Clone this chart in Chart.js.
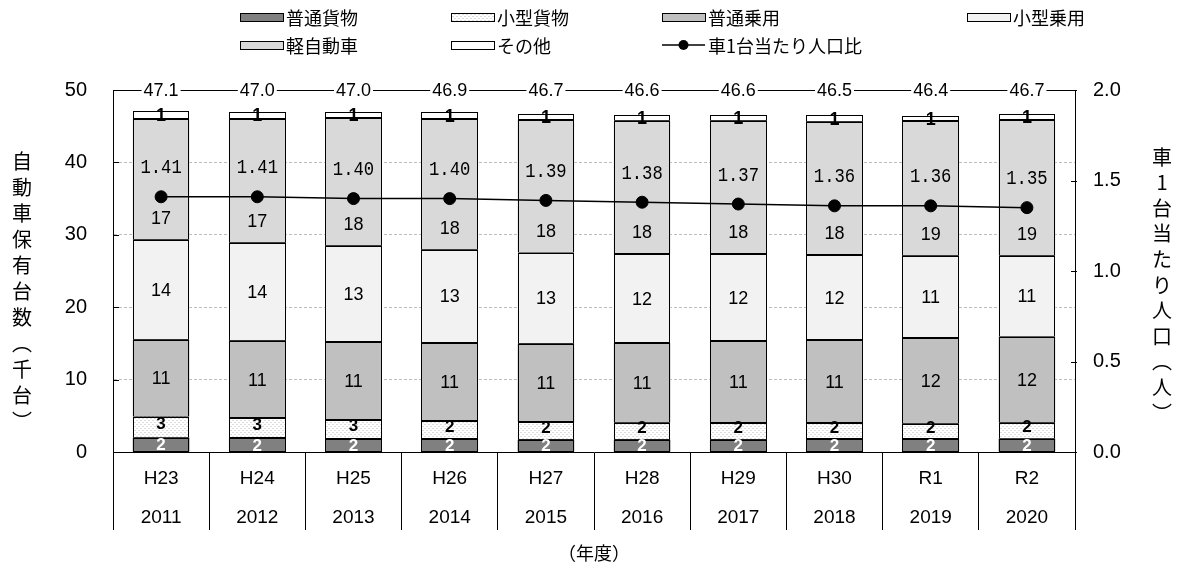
<!DOCTYPE html>
<html>
<head>
<meta charset="utf-8">
<script src="https://cdn.jsdelivr.net/npm/chart.js@4.4.1/dist/chart.umd.min.js"></script>
<style>
    body { margin: 0; background: #fff; }
    canvas { display: block; }
</style>
</head>
<body>
<canvas id="grafica" width="1183" height="570"></canvas>
<script>
// 年度
var eras = ["H23", "H24", "H25", "H26", "H27", "H28", "H29", "H30", "R1", "R2"];
var years = ["2011", "2012", "2013", "2014", "2015", "2016", "2017", "2018", "2019", "2020"];

// 自動車保有台数（千台）
var futsuKamotsu = [2.0, 1.9, 1.8, 1.8, 1.7, 1.7, 1.7, 1.75, 1.75, 1.85];
var kogataKamotsu = [2.9, 2.75, 2.6, 2.45, 2.45, 2.35, 2.3, 2.25, 2.15, 2.2];
var futsuJoyo = [10.6, 10.7, 10.8, 10.8, 10.8, 11.0, 11.3, 11.45, 11.8, 11.9];
var kogataJoyo = [13.8, 13.55, 13.3, 12.9, 12.6, 12.25, 12.0, 11.7, 11.4, 11.15];
var keiJidosha = [16.7, 17.1, 17.6, 18.0, 18.3, 18.45, 18.45, 18.45, 18.55, 18.7];
var sonota = [1.1, 1.0, 0.9, 0.95, 0.85, 0.85, 0.85, 0.9, 0.75, 0.9];

// 車1台当たり人口比
var jinkouHi = [1.41, 1.41, 1.40, 1.40, 1.39, 1.38, 1.37, 1.36, 1.36, 1.35];

var leftTicks = [0, 10, 20, 30, 40, 50];
var rightTicks = [0, 0.5, 1.0, 1.5, 2.0];

var leftTitle = ["自", "動", "車", "保", "有", "台", "数", "︵", "千", "台", "︶"];
var rightTitle = ["車", "1", "台", "当", "た", "り", "人", "口", "︵", "人", "︶"];

Chart.defaults.font.family = '"Liberation Sans", "Noto Sans CJK JP", sans-serif';
Chart.defaults.color = "#000";

// 小型貨物の点々模様
function dotPattern() {
    var c = document.createElement("canvas");
    c.width = 4;
    c.height = 4;
    var g = c.getContext("2d");
    g.fillStyle = "#ffffff";
    g.fillRect(0, 0, 4, 4);
    g.fillStyle = "#dddddd";
    g.fillRect(0, 0, 2, 1);
    g.fillRect(2, 2, 2, 1);
    return g.createPattern(c, "repeat");
}

var labels = eras.map(function (e, i) { return [e, years[i]]; });

function barSet(label, data, color, lblColor, lblFont, lblShift) {
    return {
        label: label,
        data: data,
        backgroundColor: color,
        borderWidth: 0,
        barPercentage: 0.59,
        categoryPercentage: 1,
        yAxisID: "y",
        order: 1,
        lblColor: lblColor,
        lblFont: lblFont,
        lblShift: lblShift
    };
}

var datasets = [
    barSet("普通貨物", futsuKamotsu, "#808080", "#fff", 'bold 17px "Liberation Sans"', 0),
    barSet("小型貨物", kogataKamotsu, dotPattern(), "#000", 'bold 17px "Liberation Sans"', -4),
    barSet("普通乗用", futsuJoyo, "#c0c0c0", "#000", '18px "Liberation Sans"', 0),
    barSet("小型乗用", kogataJoyo, "#f2f2f2", "#000", '18px "Liberation Sans"', 0),
    barSet("軽自動車", keiJidosha, "#d9d9d9", "#000", '18px "Liberation Sans"', "base"),
    barSet("その他", sonota, "#ffffff", "#000", 'bold 18px "Liberation Sans"', 0),
    {
        type: "line",
        label: "車1台当たり人口比",
        data: jinkouHi,
        yAxisID: "y2",
        borderColor: "#000",
        borderWidth: 1.5,
        pointRadius: 6,
        pointBorderWidth: 1,
        pointBackgroundColor: "#000",
        pointBorderColor: "#000",
        order: 0
    }
];

// 棒の輪郭（ピクセルに合わせて細い黒線）
var outlinePlugin = {
    id: "barOutline",
    afterDatasetDraw: function (chart, args) {
        var ds = chart.data.datasets[args.index];
        if (ds.type === "line") return;
        var ctx = chart.ctx;
        ctx.save();
        ctx.strokeStyle = "#000";
        ctx.lineWidth = 1;
        args.meta.data.forEach(function (bar) {
            var l = Math.round(bar.x - bar.width / 2) + 0.5;
            var r = Math.round(bar.x + bar.width / 2) - 0.5;
            var t = Math.round(bar.y) + 0.5;
            var b = Math.round(bar.base) - 0.5;
            ctx.strokeRect(l, t, r - l, b - t);
        });
        ctx.restore();
    }
};

// 数値ラベル・合計・枠線
var labelPlugin = {
    id: "valueLabels",
    afterDatasetsDraw: function (chart) {
        var ctx = chart.ctx;
        var area = chart.chartArea;
        var yS = chart.scales.y;
        var y2S = chart.scales.y2;
        ctx.save();

        // 上の枠線
        ctx.strokeStyle = "#000";
        ctx.lineWidth = 1;
        ctx.beginPath();
        ctx.moveTo(area.left, Math.round(area.top) + 0.5);
        ctx.lineTo(area.right, Math.round(area.top) + 0.5);
        ctx.stroke();

        // 内向きの目盛り
        leftTicks.forEach(function (v) {
            var p = Math.round(yS.getPixelForValue(v)) + 0.5;
            ctx.beginPath();
            ctx.moveTo(area.left, p);
            ctx.lineTo(area.left + 6, p);
            ctx.stroke();
        });
        rightTicks.forEach(function (v) {
            var p = Math.round(y2S.getPixelForValue(v)) + 0.5;
            ctx.beginPath();
            ctx.moveTo(area.right - 4, p);
            ctx.lineTo(area.right + 2, p);
            ctx.stroke();
        });

        ctx.textAlign = "center";
        ctx.textBaseline = "middle";

        // 各区分の数値
        chart.data.datasets.forEach(function (ds, i) {
            if (ds.type === "line") return;
            var meta = chart.getDatasetMeta(i);
            meta.data.forEach(function (bar, j) {
                var cy = (bar.y + bar.base) / 2;
                if (ds.lblShift === "base") {
                    cy = bar.base - 22;
                } else {
                    cy += ds.lblShift;
                }
                ctx.font = ds.lblFont;
                ctx.fillStyle = ds.lblColor;
                ctx.fillText(String(Math.round(ds.data[j])), bar.x, cy + 1);
            });
        });

        // 人口比ラベル（等幅で少し細長く）
        var lineIdx = chart.data.datasets.length - 1;
        var lineMeta = chart.getDatasetMeta(lineIdx);
        ctx.font = '21px "Liberation Mono"';
        ctx.fillStyle = "#000";
        lineMeta.data.forEach(function (pt, j) {
            ctx.save();
            ctx.translate(pt.x, pt.y - 29);
            ctx.scale(0.82, 1);
            ctx.fillText(jinkouHi[j].toFixed(2), 0, 0);
            ctx.restore();
        });

        // 合計
        ctx.font = '18px "Liberation Sans"';
        var topY = yS.getPixelForValue(50);
        chart.getDatasetMeta(0).data.forEach(function (bar, j) {
            var total = 0;
            for (var k = 0; k < 6; k++) total += chart.data.datasets[k].data[j];
            var txt = total.toFixed(1);
            var w = ctx.measureText(txt).width + 4;
            ctx.fillStyle = "#fff";
            ctx.fillRect(bar.x - w / 2, topY - 10, w, 20);
            ctx.fillStyle = "#000";
            ctx.fillText(txt, bar.x, topY + 1);
        });

        ctx.restore();
    }
};

// 凡例と縦書きの軸タイトル
var legendPlugin = {
    id: "ownLegend",
    afterDraw: function (chart) {
        var ctx = chart.ctx;
        var cols = [240, 451, 662, 967];
        var rows = [17, 45];
        ctx.save();
        ctx.textBaseline = "middle";
        ctx.textAlign = "left";
        ctx.lineWidth = 1;
        ctx.strokeStyle = "#000";
        chart.data.datasets.forEach(function (ds, i) {
            var x = cols[i % 4];
            var y = rows[Math.floor(i / 4)];
            if (ds.type === "line") {
                ctx.lineWidth = 1.5;
                ctx.beginPath();
                ctx.moveTo(x, y);
                ctx.lineTo(x + 43, y);
                ctx.stroke();
                ctx.fillStyle = "#000";
                ctx.beginPath();
                ctx.arc(x + 21.5, y, 5, 0, Math.PI * 2);
                ctx.fill();
                ctx.lineWidth = 1;
            } else {
                ctx.fillStyle = ds.backgroundColor;
                ctx.fillRect(x, y - 4, 43, 8);
                ctx.strokeRect(x + 0.5, y - 3.5, 43, 8);
            }
            ctx.fillStyle = "#000";
            ctx.font = '18px "Noto Sans CJK JP"';
            ctx.fillText(ds.label, x + 46, y + 1);
        });

        ctx.textAlign = "center";
        ctx.font = '20px "Noto Sans CJK JP"';
        leftTitle.forEach(function (ch, i) {
            ctx.fillText(ch, 22, 161 + i * 26);
        });
        rightTitle.forEach(function (ch, i) {
            ctx.fillText(ch, 1162, 157 + i * 25.6);
        });
        ctx.restore();
    }
};

var ctx = document.getElementById("grafica").getContext("2d");
var chart = new Chart(ctx, {
    type: "bar",
    data: {
        labels: labels,
        datasets: datasets
    },
    options: {
        responsive: false,
        animation: false,
        devicePixelRatio: 1,
        layout: { padding: { top: 90, left: 0, right: 0, bottom: 0 } },
        plugins: {
            legend: { display: false },
            tooltip: { enabled: false }
        },
        scales: {
            x: {
                stacked: true,
                grid: {
                    offset: true,
                    drawOnChartArea: false,
                    tickLength: 78,
                    color: "#000",
                    tickColor: "#000"
                },
                border: { color: "#000", width: 1 },
                ticks: {
                    padding: -70.5,
                    maxRotation: 0,
                    autoSkip: false,
                    color: "#000",
                    font: { family: "Liberation Sans", size: 19, lineHeight: 2.05 }
                },
                title: {
                    display: true,
                    text: "（年度）",
                    color: "#000",
                    font: { family: "Noto Sans CJK JP", size: 18 },
                    padding: { top: 0, bottom: 6 }
                },
                afterFit: function (s) { s.height = 118; }
            },
            y: {
                stacked: true,
                position: "left",
                min: 0,
                max: 50,
                afterBuildTicks: function (s) {
                    s.ticks = leftTicks.map(function (v) { return { value: v }; });
                },
                ticks: {
                    padding: 26,
                    color: "#000",
                    font: { family: "Liberation Sans", size: 20 }
                },
                grid: {
                    drawTicks: false,
                    color: function (c) {
                        return (c.tick.value === 0 || c.tick.value === 50) ? "rgba(0,0,0,0)" : "#bdbdbd";
                    }
                },
                border: { display: true, color: "#000", width: 1, dash: [3, 2] },
                afterFit: function (s) { s.width = 113; }
            },
            y2: {
                position: "right",
                min: 0,
                max: 2,
                afterBuildTicks: function (s) {
                    s.ticks = rightTicks.map(function (v) { return { value: v }; });
                },
                ticks: {
                    padding: 18,
                    color: "#000",
                    font: { family: "Liberation Sans", size: 20 },
                    callback: function (v) { return Number(v).toFixed(1); }
                },
                grid: { drawOnChartArea: false, drawTicks: false },
                border: { display: true, color: "#000", width: 1 },
                afterFit: function (s) { s.width = 108; }
            }
        }
    },
    plugins: [outlinePlugin, labelPlugin, legendPlugin]
});
</script>
</body>
</html>
